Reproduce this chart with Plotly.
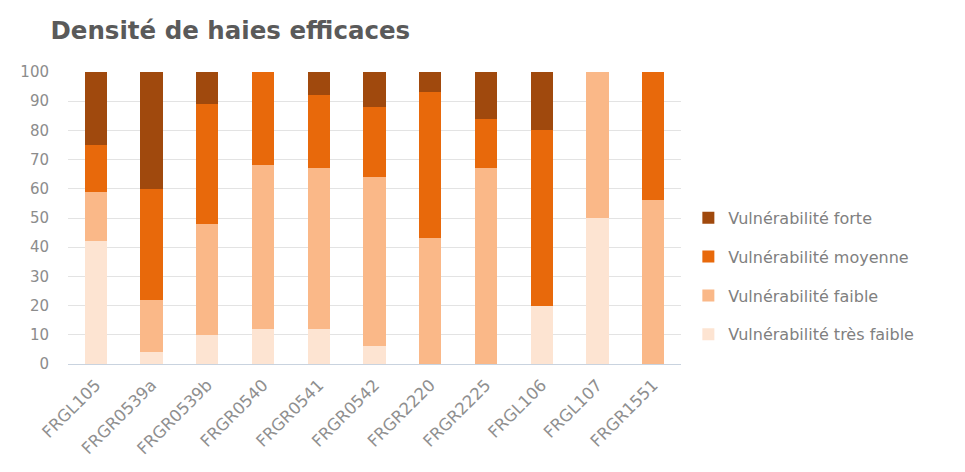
import plotly.graph_objects as go

categories = ["FRGL105", "FRGR0539a", "FRGR0539b", "FRGR0540", "FRGR0541", "FRGR0542",
              "FRGR2220", "FRGR2225", "FRGL106", "FRGL107", "FRGR1551"]
tres_faible = [42, 4, 10, 12, 12, 6, 0, 0, 20, 50, 0]
faible = [17, 18, 38, 56, 55, 58, 43, 67, 0, 50, 56]
moyenne = [16, 38, 41, 32, 25, 24, 50, 17, 60, 0, 44]
forte = [25, 40, 11, 0, 8, 12, 7, 16, 20, 0, 0]
y_ticks = list(range(0, 101, 10))

series = [
    ("Vulnérabilité très faible", tres_faible, "#fde4d2"),
    ("Vulnérabilité faible", faible, "#fab888"),
    ("Vulnérabilité moyenne", moyenne, "#e8690b"),
    ("Vulnérabilité forte", forte, "#a0490d"),
]

fig = go.Figure()
n = len(series)
for i, (name, vals, col) in enumerate(series):
    fig.add_trace(go.Bar(x=categories, y=vals, name=name, marker_color=col,
                         marker_line_width=0, legendgroup=str(i),
                         legendrank=1000 + (n - i)))

font = "'DejaVu Sans', sans-serif"
fig.update_layout(
    barmode="stack",
    bargap=0.6,
    width=965, height=472,
    paper_bgcolor="white", plot_bgcolor="white",
    margin=dict(l=57, r=292, t=64, b=116),
    title=dict(text="<b>Densité de haies efficaces</b>", x=0.044, xanchor="left",
               y=0.953, yanchor="middle",
               font=dict(family=font, size=24.5, color="#5a5a5a")),
    legend=dict(x=1.012, xanchor="left", y=0.30, yanchor="middle",
                traceorder="grouped", tracegroupgap=15,
                font=dict(family=font, size=16, color="#808080")),
    font=dict(family=font, size=13, color="#8c8c8c"),
)
fig.update_yaxes(range=[0, 100], tickvals=y_ticks, showgrid=True, gridcolor="#e3e3e3",
                 gridwidth=1, zeroline=False, showline=False,
                 tickfont=dict(size=15, color="#8c8c8c"), ticks="", ticklabelstandoff=18)
fig.update_xaxes(showline=True, linecolor="#c9d3df", linewidth=1, tickangle=-45,
                 tickfont=dict(size=16.5, color="#8f8f8f"), ticks="", ticklabelstandoff=4)
fig.write_html("out.html")
